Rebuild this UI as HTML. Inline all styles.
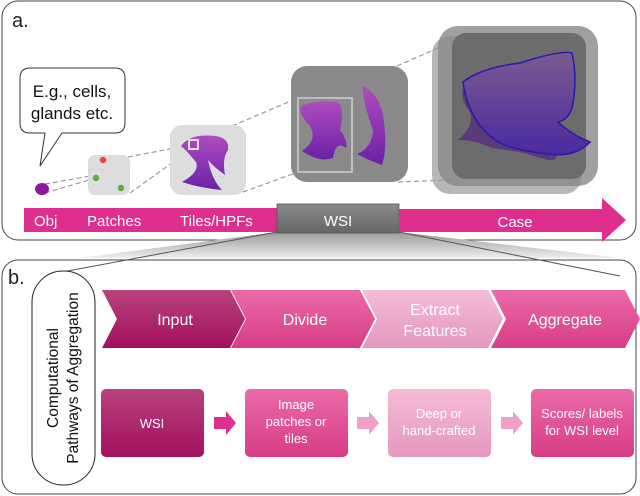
<!DOCTYPE html>
<html><head><meta charset="utf-8"><style>
html,body{margin:0;padding:0;background:#fff}
svg{display:block}
text{font-family:"Liberation Sans",sans-serif}
</style></head><body>
<svg width="640" height="496" viewBox="0 0 640 496" xmlns="http://www.w3.org/2000/svg">
<defs>
<linearGradient id="pur" x1="0" y1="0" x2="0" y2="1"><stop offset="0" stop-color="#b04cc0"/><stop offset="1" stop-color="#6a22a8"/></linearGradient>
<linearGradient id="blu" x1="0" y1="0" x2="0" y2="1"><stop offset="0" stop-color="#7a5a90"/><stop offset="1" stop-color="#4a2aa0"/></linearGradient>
<linearGradient id="trap" x1="0" y1="0" x2="0" y2="1"><stop offset="0" stop-color="#999"/><stop offset="1" stop-color="#eee"/></linearGradient>
<linearGradient id="c1" x1="0" y1="0" x2="0" y2="1"><stop offset="0" stop-color="#b8427e"/><stop offset="1" stop-color="#a3105e"/></linearGradient>
<linearGradient id="c2" x1="0" y1="0" x2="0" y2="1"><stop offset="0" stop-color="#ea6aa8"/><stop offset="1" stop-color="#d83d86"/></linearGradient>
<linearGradient id="c3" x1="0" y1="0" x2="0" y2="1"><stop offset="0" stop-color="#f4bcd6"/><stop offset="1" stop-color="#e598bd"/></linearGradient>
<linearGradient id="wsi" x1="0" y1="0" x2="0" y2="1"><stop offset="0" stop-color="#8a8a8a"/><stop offset="1" stop-color="#666"/></linearGradient>
</defs>
<!-- panel a -->
<rect x="2" y="1" width="634" height="239" rx="16" fill="#fff" stroke="#444" stroke-width="1"/>
<text x="12" y="27" font-size="20" fill="#222">a.</text>
<!-- trapezoid -->
<polygon points="277,232 399,232 620,258 80,258" fill="url(#trap)"/>
<!-- panel b -->
<rect x="2" y="260" width="634" height="234" rx="16" fill="#fff" stroke="#444" stroke-width="1"/>
<line x1="62" y1="272" x2="277" y2="232" stroke="#555" stroke-width="1"/>
<line x1="399" y1="232" x2="620" y2="276" stroke="#555" stroke-width="1"/>
<!-- bubble -->
<path d="M30,68 H115 Q125,68 125,78 V123 Q125,133 115,133 H62 L40,166 L45,133 H30 Q20,133 20,123 V78 Q20,68 30,68 Z" fill="#fff" stroke="#333" stroke-width="1"/>
<text x="72" y="97" font-size="17" text-anchor="middle" fill="#111">E.g., cells,</text>
<text x="72" y="119" font-size="17" text-anchor="middle" fill="#111">glands etc.</text>
<!-- dashed lines -->
<g stroke="#999" stroke-width="1.2" stroke-dasharray="5,3" fill="none">
<line x1="45" y1="184" x2="96" y2="175"/><line x1="45" y1="193" x2="96" y2="178"/>
<line x1="128" y1="157" x2="190" y2="145"/><line x1="130" y1="193" x2="190" y2="150"/>
<line x1="232" y1="126" x2="298" y2="98"/><line x1="243" y1="192" x2="298" y2="172"/>
<line x1="397" y1="66" x2="445" y2="45"/><line x1="398" y1="182" x2="452" y2="180"/>
</g>
<ellipse cx="42" cy="189" rx="7" ry="6" fill="#8a1a9a"/>
<rect x="88" y="155" width="42" height="40" rx="7" fill="#ddd"/>
<circle cx="103" cy="160" r="3.2" fill="#e44"/><circle cx="96" cy="178" r="3.2" fill="#6a4"/><circle cx="121" cy="188" r="3.2" fill="#6a4"/>
<rect x="170" y="125" width="76" height="70" rx="12" fill="#ddd"/>
<path d="M181,146 Q190,133 215,136 Q230,138 228,150 Q222,158 225,175 Q215,168 208,160 Q212,180 222,190 Q200,188 182,182 Q200,172 196,162 Q186,150 181,146 Z" fill="url(#pur)"/>
<rect x="189" y="140" width="9" height="9" fill="none" stroke="#ddd" stroke-width="2"/>
<!-- WSI box -->
<rect x="291" y="66" width="117" height="116" rx="16" fill="#8a8a8a"/>
<path d="M300,107 Q312,100 338,102 Q345,110 340,130 Q348,140 346,148 Q336,140 333,158 Q320,163 302,151 Q318,140 310,126 Q300,116 300,107 Z" fill="url(#pur)"/>
<path d="M362,86 Q378,92 383,115 Q388,148 382,165 Q368,160 357,154 Q372,148 373,130 Q365,110 362,86 Z" fill="url(#pur)"/>
<rect x="298" y="98" width="54" height="74" fill="none" stroke="#ccc" stroke-width="1.6"/>
<!-- case stack -->
<rect x="432" y="36" width="150" height="158" rx="18" fill="#999" opacity="0.7"/>
<rect x="438" y="26" width="160" height="160" rx="20" fill="#888" opacity="0.8"/>
<rect x="452" y="33" width="134" height="146" rx="14" fill="#6c6c6c"/>
<path d="M463,88 Q470,80 525,70 Q540,60 550,68 Q546,130 543,140 Q530,160 555,150 Q560,162 548,160 L520,152 L492,148 Q475,140 458,140 Q475,125 470,112 Q460,100 463,88 Z" fill="#5a3a7a"/>
<path d="M463,82 Q480,68 520,63 Q560,50 572,53 Q578,80 572,108 Q568,120 558,122 Q572,135 590,142 Q575,158 548,154 Q510,150 495,140 Q468,120 463,82 Z" fill="url(#blu)" stroke="#2a1aa8" stroke-width="1.5"/>
<!-- bar -->
<rect x="24" y="208" width="256" height="24" fill="#de2f8e"/>
<rect x="277" y="204" width="122" height="29" fill="url(#wsi)" stroke="#555" stroke-width="0.8"/>
<polygon points="399,209 602,209 602,198 626,220 602,242 602,232 399,232" fill="#de2f8e"/>
<g font-size="15" fill="#fff">
<text x="34" y="226">Obj</text><text x="87" y="226">Patches</text><text x="180" y="226">Tiles/HPFs</text>
<text x="338" y="226" text-anchor="middle">WSI</text><text x="515" y="227" text-anchor="middle">Case</text>
</g>
<!-- b -->
<text x="8" y="284" font-size="20" fill="#222">b.</text>
<rect x="32" y="271" width="63" height="214" rx="31" fill="#fff" stroke="#222" stroke-width="1"/>
<text transform="translate(58,378) rotate(-90)" font-size="15.5" text-anchor="middle" fill="#111">Computational</text>
<text transform="translate(78,378) rotate(-90)" font-size="15.5" text-anchor="middle" fill="#111">Pathways of Aggregation</text>
<polygon points="102,290 230,290 245,319 230,348 102,348 117,319" fill="url(#c1)"/>
<polygon points="231,290 360,290 375,319 360,348 231,348 246,319" fill="url(#c2)"/>
<polygon points="362,290 488,290 503,319 488,348 362,348 377,319" fill="url(#c3)"/>
<polygon points="491,290 625,290 640,319 625,348 491,348 506,319" fill="url(#c2)"/>
<g font-size="16" fill="#fff" text-anchor="middle">
<text x="175" y="325">Input</text><text x="305" y="325">Divide</text>
<text x="435" y="315">Extract</text><text x="435" y="336">Features</text>
<text x="565" y="325">Aggregate</text>
</g>
<rect x="101" y="389" width="103" height="68" rx="5" fill="url(#c1)"/>
<rect x="245" y="389" width="103" height="68" rx="5" fill="url(#c2)"/>
<rect x="388" y="389" width="103" height="68" rx="5" fill="url(#c3)"/>
<rect x="531" y="389" width="103" height="68" rx="5" fill="url(#c2)"/>
<polygon points="214,417 226,417 226,411 236,423 226,435 226,429 214,429" fill="#de2f8e"/>
<polygon points="357,417 369,417 369,411 379,423 369,435 369,429 357,429" fill="#f0a0c8"/>
<polygon points="501,417 513,417 513,411 523,423 513,435 513,429 501,429" fill="#f0a0c8"/>
<g font-size="13" fill="#fff" text-anchor="middle">
<text x="152" y="428">WSI</text>
<text x="296" y="409">Image</text><text x="296" y="426">patches or</text><text x="296" y="443">tiles</text>
<text x="439" y="418">Deep or</text><text x="439" y="435">hand-crafted</text>
<text x="582" y="418">Scores/ labels</text><text x="582" y="435">for WSI level</text>
</g>
</svg>
</body></html>
